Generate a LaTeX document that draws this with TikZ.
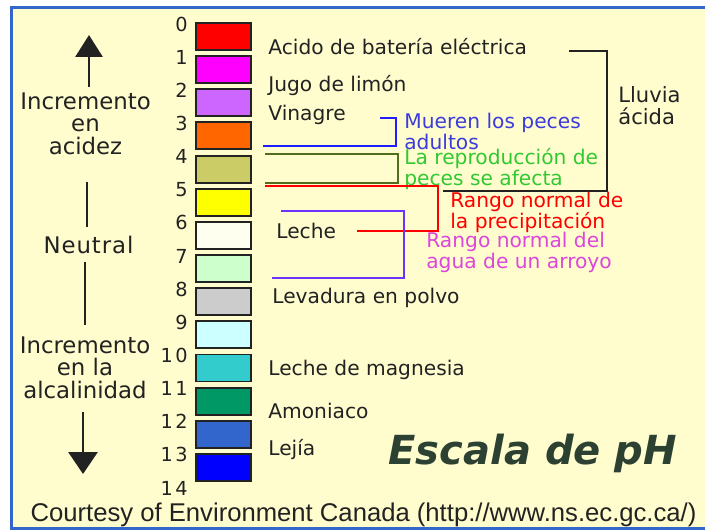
\documentclass[tikz,border=0pt]{standalone}
\usepackage{fontspec}
\setmainfont{DejaVu Sans}
\newfontfamily\numfont{DejaVu Sans}[LetterSpace=12]
\newfontfamily\footfont{Liberation Sans}
\usetikzlibrary{arrows.meta}

\definecolor{cream}{RGB}{255,253,206}
\definecolor{frameblue}{RGB}{51,102,204}
\definecolor{inkgray}{RGB}{34,34,34}
\definecolor{titlegreen}{RGB}{45,65,50}
\definecolor{ph0}{RGB}{255,0,0}
\definecolor{ph1}{RGB}{255,0,255}
\definecolor{ph2}{RGB}{204,102,255}
\definecolor{ph3}{RGB}{255,102,0}
\definecolor{ph4}{RGB}{204,204,102}
\definecolor{ph5}{RGB}{255,255,0}
\definecolor{ph6}{RGB}{255,255,240}
\definecolor{ph7}{RGB}{204,255,204}
\definecolor{ph8}{RGB}{204,204,204}
\definecolor{ph9}{RGB}{204,255,255}
\definecolor{ph10}{RGB}{51,204,204}
\definecolor{ph11}{RGB}{0,153,102}
\definecolor{ph12}{RGB}{51,102,204}
\definecolor{ph13}{RGB}{0,0,255}
\definecolor{fishline}{RGB}{30,30,255}
\definecolor{fishtext}{RGB}{60,60,220}
\definecolor{reproline}{RGB}{80,110,30}
\definecolor{reprotext}{RGB}{50,200,50}
\definecolor{rainred}{RGB}{255,0,0}
\definecolor{streamline}{RGB}{110,50,255}
\definecolor{streamtext}{RGB}{220,70,220}

\tikzset{
  phbox/.style={draw=inkgray, line width=1.1pt, minimum width=1.1cm,
    minimum height=0.54cm, inner sep=0pt, outer sep=0pt},
  phnum/.style={anchor=east, inner sep=0pt, text=inkgray,
    font=\numfont\fontsize{11}{12}\selectfont},
  item/.style={anchor=base west, inner sep=0pt, text=inkgray, align=left,
    font=\fontsize{11.5}{11.9}\selectfont},
  side/.style={anchor=base, inner sep=0pt, text=inkgray, align=center,
    font=\fontsize{13}{12.75}\selectfont},
  bracket/.style={line width=0.85pt},
  bigarrow/.style={line width=1.7pt, inkgray},
}

\begin{document}
\begin{tikzpicture}[x=0.02cm, y=-0.02cm]
  \useasboundingbox (0,0) rectangle (705,531);
  \fill[white] (0,0) rectangle (705,531);
  \fill[cream] (12,8) rectangle (705,528);
  \draw[frameblue, line width=1.7pt] (705,7.5) -- (11.5,7.5) -- (11.5,528.5) -- (705,528.5);

  % the scale itself
  \foreach \c [count=\k from 0] in {ph0,ph1,ph2,ph3,ph4,ph5,ph6,ph7,ph8,ph9,ph10,ph11,ph12,ph13}
    \node[phbox, fill=\c] (box\k) at (223.5, {36.5+33.15*\k}) {};
  \foreach \n in {0,...,14}
    \node[phnum] (num\n) at (188, {24+33.15*\n}) {\n};

  % left side (multi-line nodes sit on their last baseline)
  \draw[bigarrow, -{Triangle[length=0.44cm, width=0.54cm]}] (89,87) -- (89,35);
  \node[side] (acidity) at (85.5,154) {Incremento\\en\\acidez};
  \draw[bigarrow] (87,182) -- (87,227);
  \node[side] (neutral) at (88.5,253) {\addfontfeature{LetterSpace=4}Neutral};
  \draw[bigarrow] (85,262) -- (85,325);
  \node[side] (alkaline) at (85,398) {Incremento\\en la\\alcalinidad};
  \draw[bigarrow, -{Triangle[length=0.44cm, width=0.58cm]}] (83,412) -- (83,474);

  % substances
  \node[item] (battery) at (268,54) {Acido de batería eléctrica};
  \node[item] (lemon) at (268,91) {Jugo de limón};
  \node[item] (vinegar) at (268,120) {Vinagre};
  \node[item] (milk) at (276,238) {Leche};
  \node[item] (baking) at (272,303) {Levadura en polvo};
  \node[item] (magnesia) at (268,375) {Leche de magnesia};
  \node[item] (ammonia) at (268,418) {Amoniaco};
  \node[item] (bleach) at (268,455) {Lejía};

  % ranges
  \draw[bracket, inkgray, line width=1.1pt] (569,51) -- (607,51) -- (607,191) -- (443,191);
  \node[item, font=\fontsize{12}{12.5}\selectfont] (acidrain) at (618,124) {Lluvia\\ácida};
  \draw[bracket, fishline] (380,118) -- (396,118) -- (396,146) -- (263,146);
  \node[item, text=fishtext] (fish) at (404,149) {Mueren los peces\\adultos};
  \draw[bracket, reproline] (265,154) -- (398,154) -- (398,183) -- (265,183);
  \node[item, text=reprotext] (repro) at (404,185) {La reproducción de\\peces se afecta};
  \draw[bracket, rainred] (265,186) -- (438,186) -- (438,231) -- (357,231);
  \node[item, text=rainred] (rain) at (450,228) {Rango normal de\\la precipitación};
  \draw[bracket, streamline] (281,211) -- (404,211) -- (404,278) -- (272,278);
  \node[item, text=streamtext] (stream) at (426,268) {Rango normal del\\agua de un arroyo};

  \node[anchor=base west, inner sep=0pt, text=titlegreen,
    font=\bfseries\itshape\fontsize{22.8}{24}\selectfont] (title) at (388,464) {Escala de pH};
  \node[anchor=base, inner sep=0pt, text=inkgray,
    font=\footfont\fontsize{14.6}{16}\selectfont] (courtesy) at (363.5,521)
    {Courtesy of Environment Canada (http://www.ns.ec.gc.ca/)};
\end{tikzpicture}
\end{document}
